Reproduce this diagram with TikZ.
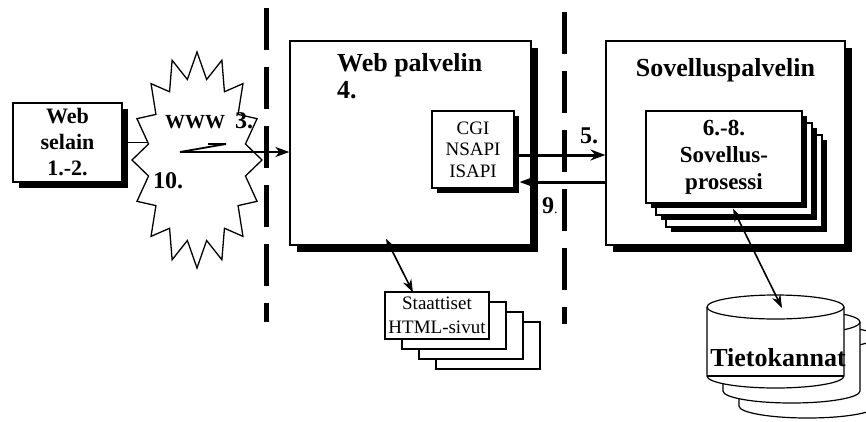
\documentclass[tikz,border=0pt]{standalone}
\usepackage{fontspec}
\setmainfont{Liberation Serif}
\usetikzlibrary{arrows.meta, shadows}

\tikzset{
  box/.style={draw, fill=white, line width=1.2pt, inner sep=0pt},
  shadowbox/.style={box, general shadow={fill=black, shadow xshift=#1, shadow yshift=-#1}},
  shadowbox/.default=7pt,
  procbox/.style={shadowbox=5pt, minimum width=156pt, minimum height=92pt},
  pagebox/.style={box, minimum width=104pt, minimum height=47pt},
  title/.style={font=\fontsize{26}{30}\selectfont\bfseries, inner sep=0pt},
  stepno/.style={font=\fontsize{24}{28}\selectfont\bfseries, inner sep=0pt, anchor=base west},
  fence/.style={line width=5pt, dash pattern=on 42pt off 17pt},
  flow/.style={line width=3pt, -{Stealth[length=15pt,width=11pt,inset=5pt]}},
  link/.style={line width=1.6pt, {Stealth[length=13pt,width=9pt,inset=4pt]}-{Stealth[length=13pt,width=9pt,inset=4pt]}},
}

\begin{document}
\begin{tikzpicture}[x=1pt, y=-1pt]
    \useasboundingbox (0,0) rectangle (866,421);

    \draw[fence] (266,8) -- (266,322);
    \draw[fence] (564,12) -- (564,324);

    \node[shadowbox, minimum width=241pt, minimum height=204pt] (webp) at (410.5,143) {};
    \node[title, anchor=base west] (webptitle) at (337,71) {Web palvelin};
    \node[title, anchor=base west] (webpnum) at (337,98) {4.};

    \node[shadowbox, minimum width=239pt, minimum height=204pt] (sov) at (725.5,143) {};
    \node[title, anchor=base] (sovtitle) at (725.5,76) {Sovelluspalvelin};

    \node[shadowbox=6pt, minimum width=109pt, minimum height=79pt, align=center,
          font=\fontsize{22}{26}\selectfont\bfseries] (selain) at (67.5,142.5) {Web\\selain\\1.-2.};

    \node[shadowbox=5pt, minimum width=82pt, minimum height=77pt, align=center,
          font=\fontsize{19}{21.5}\selectfont] (cgi) at (473,149.5) {CGI\\NSAPI\\ISAPI};

    % process stack, back to front
    \foreach \i in {2,1}
        \node[procbox] (proc\i) at ({724+10*\i},{157+12*\i}) {};
    \node[procbox, align=center, font=\fontsize{23}{27}\selectfont\bfseries] (proc0) at (724,157) {6.-8.\\Sovellus-\\prosessi};

    % static pages
    \foreach \i in {3,2,1}
        \node[pagebox] (html\i) at ({437+17*\i},{315.5+10*\i}) {};
    \node[pagebox, align=center, font=\fontsize{19}{24}\selectfont] (html0) at (437,315.5) {Staattiset\\HTML-sivut};

    % databases
    \foreach \i in {2,1,0} {
        \pgfmathsetmacro\cx{775.5+16*\i}
        \pgfmathsetmacro\ty{307+15*\i}
        \draw[line width=1.2pt, fill=white] (\cx-68.5,\ty) -- ++(0,69)
            arc[start angle=180, end angle=0, x radius=68.5, y radius=12] -- ++(0,-69)
            arc[start angle=0, end angle=-180, x radius=68.5, y radius=12] -- cycle;
        \draw[line width=1.2pt] (\cx-68.5,\ty) arc[start angle=180, end angle=0, x radius=68.5, y radius=12];
    }
    \draw[line width=1.2pt] (707,376) -- (844,376);
    \coordinate (dbtop) at (782,308);
    \node[title] (dbname) at (778,358) {Tietokannat};

    % internet cloud
    \draw[line width=1.5pt] (selain.east) -- ++(70,0);
    \coordinate (www) at (197,160);
    \begin{scope}[shift={(www)}]
        \draw[line width=1.3pt, fill=white] (65,0)
            \foreach \i in {1,...,31} { -- ({65*(1-0.24*mod(\i,2))*cos(\i*11.25)}, {108*(1-0.24*mod(\i,2))*sin(\i*11.25)}) } -- cycle;
    \end{scope}
    \node[inner sep=0pt, anchor=base west, font=\fontsize{20}{24}\selectfont\bfseries] (wwwlbl) at (165,128) {WWW};
    \node[stepno] (step3) at (235,128) {3.};
    \node[stepno] (step10) at (153,188) {10.};

    \coordinate (zig1) at (208,144);
    \coordinate (zig2) at (226,144);
    \coordinate (zig3) at (180,152);
    \draw[line width=1.8pt, -{Stealth[length=14pt,width=10pt,inset=4pt]}] (zig1) -- (zig2) -- (zig3) -- (zig3 -| webp.west);

    \coordinate (out5) at ([yshift=-5.5pt]cgi.east);
    \draw[flow] (out5) -- (out5 -| sov.west);
    \node[stepno] (step5) at (580,143) {5.};

    \coordinate (in9) at ([yshift=-39pt]sov.west);
    \path (in9 -| cgi.east) ++(5,0) coordinate (cgi9);
    \draw[flow] (in9) -- (cgi9);
    \node[stepno] (step9) at (542,213) {9{\normalfont\fontsize{14}{16}\selectfont.}};

    \draw[link] ([xshift=-24.5pt,yshift=7pt]webp.south) -- ([xshift=-24pt,yshift=-1pt]html0.north);
    \draw[link] ([xshift=9pt,yshift=-5pt]proc0.south) -- (dbtop);
\end{tikzpicture}
\end{document}
